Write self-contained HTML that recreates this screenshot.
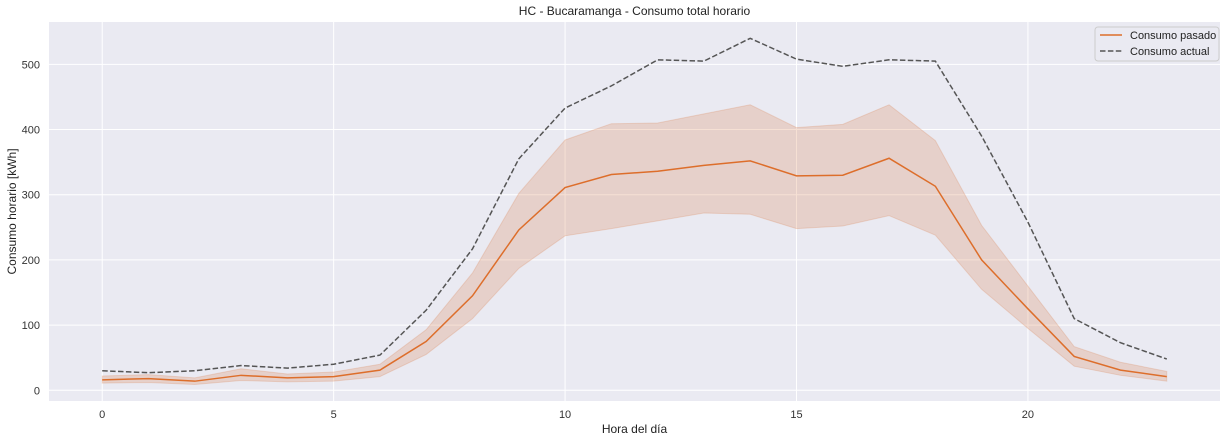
<!DOCTYPE html>
<html><head><meta charset="utf-8"><style>
body{margin:0;background:#fff;}
svg{display:block;font-family:"Liberation Sans",sans-serif;}
</style></head><body>
<svg id="chart" width="1228" height="442"></svg>
<script>
const hours=[0,1,2,3,4,5,6,7,8,9,10,11,12,13,14,15,16,17,18,19,20,21,22,23];
const actual=[30,27,30,38,34,40,54,123,217,355,433,467,507,505,540,508,497,507,505,390,258,110,73,48];
const pastMean=[16,18,14,23,19,21,31,75,145,246,311,331,336,345,352,329,330,356,313,200,125,52,31,21];
const pastUpper=[22,24,19,33,25,28,40,93,180,302,384,409,410,424,438,403,408,438,383,253,160,67,43,29];
const pastLower=[11,12,9,15,13,14,21,55,110,187,237,248,260,272,270,248,252,268,238,155,95,37,23,14];
const xTicks=[0,5,10,15,20];
const yTicks=[0,100,200,300,400,500];

const NS="http://www.w3.org/2000/svg";
const svg=document.getElementById('chart');
const L=49,R=1220,T=22,B=401;
const xMin=-1.15,xMax=24.15,yMin=-16.4,yMax=565;
const X=v=>L+(v-xMin)/(xMax-xMin)*(R-L);
const Y=v=>B-(v-yMin)/(yMax-yMin)*(B-T);
function el(tag,attrs,parent){const e=document.createElementNS(NS,tag);for(const k in attrs)e.setAttribute(k,attrs[k]);(parent||svg).appendChild(e);return e;}

const bg=el('rect',{x:L,y:T,width:R-L,height:B-T,fill:'#eaeaf2'});



xTicks.forEach(t=>{
  const g=el('line',{x1:X(t),x2:X(t),y1:T,y2:B,stroke:'#fff','stroke-width':1});
  
  
  const tx=el('text',{x:X(t),y:B+17,'text-anchor':'middle','font-size':11,fill:'#333'});
  tx.textContent=t;
  
  
});
yTicks.forEach(t=>{
  const g=el('line',{x1:L,x2:R,y1:Y(t),y2:Y(t),stroke:'#fff','stroke-width':1});
  
  
  const tx=el('text',{x:L-9,y:Y(t)+4,'text-anchor':'end','font-size':11,fill:'#333'});
  tx.textContent=t;
  
  
});

let band=hours.map((h,i)=>X(h)+','+Y(pastUpper[i])).join(' ')+' '+hours.slice().reverse().map((h,j)=>{const i=hours.length-1-j;return X(h)+','+Y(pastLower[i]);}).join(' ');
const bandEl=el('polygon',{points:band,fill:'rgba(221,132,82,0.25)',stroke:'rgba(221,132,82,0.25)'});



const pm=el('polyline',{points:hours.map((h,i)=>X(h)+','+Y(pastMean[i])).join(' '),fill:'none',stroke:'#dd6e2b','stroke-width':1.5});



const ac=el('polyline',{points:hours.map((h,i)=>X(h)+','+Y(actual[i])).join(' '),fill:'none',stroke:'#555','stroke-width':1.5,'stroke-dasharray':'5.5,2.4'});



const title=el('text',{x:(L+R)/2,y:15,'text-anchor':'middle','font-size':12,fill:'#222'});
title.textContent='HC - Bucaramanga - Consumo total horario';



const xl=el('text',{x:(L+R)/2,y:433,'text-anchor':'middle','font-size':12,fill:'#222'});
xl.textContent='Hora del día';



const yl=el('text',{x:0,y:0,'text-anchor':'middle','font-size':12,fill:'#222',transform:'translate(16,'+((T+B)/2)+') rotate(-90)'});
yl.textContent='Consumo horario [kWh]';



const lg=el('g',{});


el('rect',{x:1095,y:27,width:124,height:34,rx:3,fill:'#eaeaf2',stroke:'#ccc','stroke-width':1},lg);
const l1=el('line',{x1:1100,x2:1122,y1:35,y2:35,stroke:'#dd6e2b','stroke-width':1.5},lg);


const t1=el('text',{x:1130,y:39,'font-size':11,fill:'#222'},lg);
t1.textContent='Consumo pasado';


const l2=el('line',{x1:1100,x2:1122,y1:51,y2:51,stroke:'#555','stroke-width':1.5,'stroke-dasharray':'5.5,2.4'},lg);


const t2=el('text',{x:1130,y:55,'font-size':11,fill:'#222'},lg);
t2.textContent='Consumo actual';


</script>
</body></html>
